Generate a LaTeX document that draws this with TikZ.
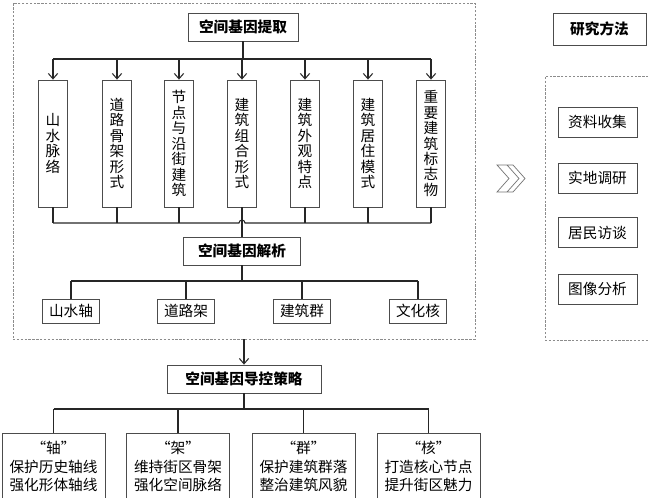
\documentclass[tikz,border=0pt]{standalone}
\usepackage{fontspec}
\setmainfont{Noto Sans CJK SC}
\usetikzlibrary{arrows.meta}
\tikzset{
  frame/.style={draw=black!45, line width=0.6pt, dash pattern=on 2pt off 1.3pt, inner sep=0pt},
  headbox/.style={draw=black!70, line width=0.7pt, fill=white, inner sep=0pt, font=\fontsize{12.5pt}{15pt}\selectfont\bfseries},
  genebox/.style={draw=black!70, line width=0.7pt, fill=white, inner sep=0pt, align=center, minimum width=8.7mm, minimum height=38.1mm, font=\fontsize{12.5pt}{13.2pt}\selectfont},
  axisbox/.style={draw=black!70, line width=0.7pt, fill=white, inner sep=0pt, minimum width=17.1mm, minimum height=7.2mm, font=\fontsize{12.5pt}{15pt}\selectfont},
  planbox/.style={draw=black!70, line width=0.7pt, fill=white, inner sep=0pt, align=center, minimum width=30.9mm, minimum height=20.1mm, font=\fontsize{12.5pt}{15.8pt}\selectfont},
  methodbox/.style={draw=black!70, line width=0.7pt, fill=white, inner sep=0pt, minimum width=23.7mm, minimum height=9mm, font=\fontsize{12.5pt}{15pt}\selectfont},
  wire/.style={line width=0.9pt, draw=black!85},
  feed/.style={wire, -{Straight Barb[length=1.6mm, width=2.8mm]}},
}
\begin{document}
\begin{tikzpicture}[x=0.3mm, y=-0.3mm]
\useasboundingbox (0,0) rectangle (648,498);
% frames
\node[frame, minimum width=138.6mm, minimum height=100.8mm] (outer) at (244,171) {};
\node[frame, minimum width=34.5mm, minimum height=79.2mm] (side) at (602.5,208) {};
% extraction
\node[headbox, minimum width=33mm, minimum height=8.4mm] (tq) at (243,27) {空间基因提取};
\node[genebox] (g1) at (53,143.5) {山\\水\\脉\\络};
\node[genebox] (g2) at (117,143.5) {道\\路\\骨\\架\\形\\式};
\node[genebox] (g3) at (179,143.5) {节\\点\\与\\沿\\街\\建\\筑};
\node[genebox] (g4) at (242,143.5) {建\\筑\\组\\合\\形\\式};
\node[genebox] (g5) at (305,143.5) {建\\筑\\外\\观\\特\\点};
\node[genebox] (g6) at (368,143.5) {建\\筑\\居\\住\\模\\式};
\node[genebox] (g7) at (431,143.5) {重\\要\\建\\筑\\标\\志\\物};
\draw[wire] (tq.south) -- (tq.south |- 0,59);
\draw[wire] (g1.north |- 0,59) -- (g7.north |- 0,59);
\foreach \g in {g1,g2,g3,g4,g5,g6,g7}
  \draw[feed] (\g.north |- 0,59) -- (\g.north);
% analysis
\node[headbox, minimum width=35.1mm, minimum height=8.4mm] (jx) at (242,251) {空间基因解析};
\foreach \g in {g1,g2,g3,g5,g6,g7}
  \draw[wire] (\g.south) -- (\g.south |- 0,223);
\draw[wire] (g1.south |- 0,223) -- (239,223) arc (180:360:3) -- (g7.south |- 0,223);
\draw[wire] (g4.south) -- (jx.north);
\node[axisbox] (a1) at (71,311) {山水轴};
\node[axisbox] (a2) at (186,311) {道路架};
\node[axisbox] (a3) at (302,311) {建筑群};
\node[axisbox] (a4) at (418,311) {文化核};
\draw[wire] (jx.south) -- (jx.south |- 0,281);
\draw[wire] (a1.north |- 0,281) -- (a4.north |- 0,281);
\foreach \a in {a1,a2,a3,a4}
  \draw[wire] (\a.north |- 0,281) -- (\a.north);
% strategy
\node[headbox, minimum width=46.2mm, minimum height=8.4mm] (dk) at (244,379) {空间基因导控策略};
\draw[feed] (outer.south) -- (dk.north);
\node[planbox] (p1) at (53.5,466.5) {“轴”\\保护历史轴线\\强化形体轴线};
\node[planbox] (p2) at (178,466.5) {“架”\\维持街区骨架\\强化空间脉络};
\node[planbox] (p3) at (303.5,466.5) {“群”\\保护建筑群落\\整治建筑风貌};
\node[planbox] (p4) at (428.5,466.5) {“核”\\打造核心节点\\提升街区魅力};
\draw[wire] (dk.south) -- (dk.south |- 0,409);
\draw[wire] (p1.north |- 0,409) -- (p4.north |- 0,409);
\foreach \p in {p1,p2,p3,p4}
  \draw[wire] (\p.north |- 0,409) -- (\p.north);
% methods
\node[headbox, minimum width=27.9mm, minimum height=9.6mm] (yf) at (599.5,29) {研究方法};
\node[methodbox] (m1) at (597.5,122) {资料收集};
\node[methodbox] (m2) at (597.5,178) {实地调研};
\node[methodbox] (m3) at (597.5,232.5) {居民访谈};
\node[methodbox] (m4) at (597.5,289) {图像分析};
\draw[black!55, line width=0.6pt, line join=miter]
  (497,165) -- (507,165) -- (519,178.5) -- (507,192) -- (497,192) -- (509,178.5) -- cycle
  (507,165) -- (513,165) -- (525,178.5) -- (513,192) -- (507,192);
\end{tikzpicture}
\end{document}
